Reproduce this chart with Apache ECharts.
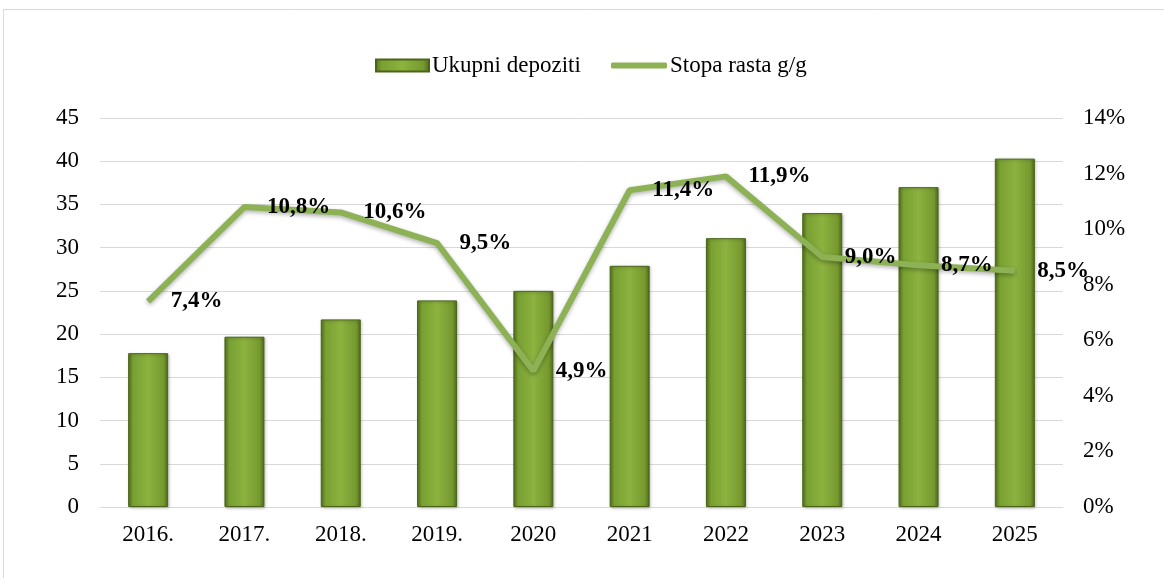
<!DOCTYPE html>
<html>
<head>
<meta charset="utf-8">
<script src="https://cdn.jsdelivr.net/npm/echarts@6/dist/echarts.min.js"></script>
<style>
    html, body { margin: 0; padding: 0; background: #fff; }
    #chart { width: 1164px; height: 578px; }
</style>
</head>
<body>
<div id="chart"></div>
<script>
/**
 * Ukupni depoziti i stopa rasta g/g
 */
const years = ['2016.', '2017.', '2018.', '2019.', '2020', '2021', '2022', '2023', '2024', '2025'];
const depoziti = [17.8, 19.7, 21.7, 23.9, 25.0, 27.9, 31.1, 34.0, 37.0, 40.3];
const stopaRasta = [7.4, 10.8, 10.6, 9.5, 4.9, 11.4, 11.9, 9.0, 8.7, 8.5];

const serif = '"Liberation Serif", "Times New Roman", serif';
const lineColor = '#8db255';

const barColor = new echarts.graphic.LinearGradient(0, 0, 1, 0, [
    { offset: 0, color: '#56741f' },
    { offset: 0.12, color: '#78a032' },
    { offset: 0.5, color: '#8cb23f' },
    { offset: 0.88, color: '#76992f' },
    { offset: 1, color: '#4f6a1c' }
]);

const legendText = { fontFamily: serif, fontSize: 23, color: '#000', padding: [0, 0, 0, -2] };
const axisText = { fontFamily: serif, fontSize: 23, color: '#000' };

const chart = echarts.init(document.getElementById('chart'));

chart.setOption({
    backgroundColor: '#fff',
    animation: false,
    graphic: [
        {
            type: 'rect',
            shape: { x: 3.5, y: 9.5, width: 1200, height: 600 },
            style: { fill: 'none', stroke: '#d9d9d9', lineWidth: 1 },
            silent: true
        }
    ],
    legend: [
        {
            top: 49,
            left: 370,
            itemWidth: 53,
            itemHeight: 12,
            icon: 'rect',
            textStyle: legendText,
            data: ['Ukupni depoziti']
        },
        {
            top: 49,
            left: 606,
            itemWidth: 56,
            itemHeight: 6,
            icon: 'roundRect',
            textStyle: legendText,
            data: ['Stopa rasta g/g']
        }
    ],
    grid: {
        left: 100,
        right: 101,
        top: 118,
        bottom: 71
    },
    xAxis: {
        type: 'category',
        data: years,
        axisTick: { show: false },
        axisLine: { lineStyle: { color: '#d9d9d9' } },
        axisLabel: Object.assign({ margin: 16 }, axisText)
    },
    yAxis: [
        {
            type: 'value',
            min: 0,
            max: 45,
            interval: 5,
            axisLine: { show: false },
            axisTick: { show: false },
            splitLine: { lineStyle: { color: '#d9d9d9' } },
            axisLabel: Object.assign({ margin: 21 }, axisText)
        },
        {
            type: 'value',
            min: 0,
            max: 14,
            interval: 2,
            axisLine: { show: false },
            axisTick: { show: false },
            splitLine: { show: false },
            axisLabel: Object.assign({ margin: 20, formatter: v => v + '%' }, axisText)
        }
    ],
    series: [
        {
            name: 'Ukupni depoziti',
            type: 'bar',
            data: depoziti,
            barWidth: 40,
            itemStyle: {
                color: barColor,
                borderColor: '#4a6419',
                borderWidth: 1,
                shadowColor: 'rgba(0,0,0,0.25)',
                shadowBlur: 3,
                shadowOffsetX: 1,
                shadowOffsetY: 1
            }
        },
        {
            name: 'Stopa rasta g/g',
            type: 'line',
            yAxisIndex: 1,
            data: stopaRasta,
            symbol: 'circle',
            symbolSize: 1,
            showSymbol: true,
            lineStyle: {
                color: lineColor,
                width: 6,
                shadowColor: 'rgba(0,0,0,0.3)',
                shadowBlur: 4,
                shadowOffsetY: 2
            },
            itemStyle: { color: lineColor },
            label: {
                show: true,
                position: 'right',
                distance: 22,
                fontFamily: serif,
                fontSize: 23,
                fontWeight: 'bold',
                color: '#000',
                formatter: p => p.value.toFixed(1).replace('.', ',') + '%'
            },
            z: 5
        }
    ]
});
</script>
</body>
</html>
